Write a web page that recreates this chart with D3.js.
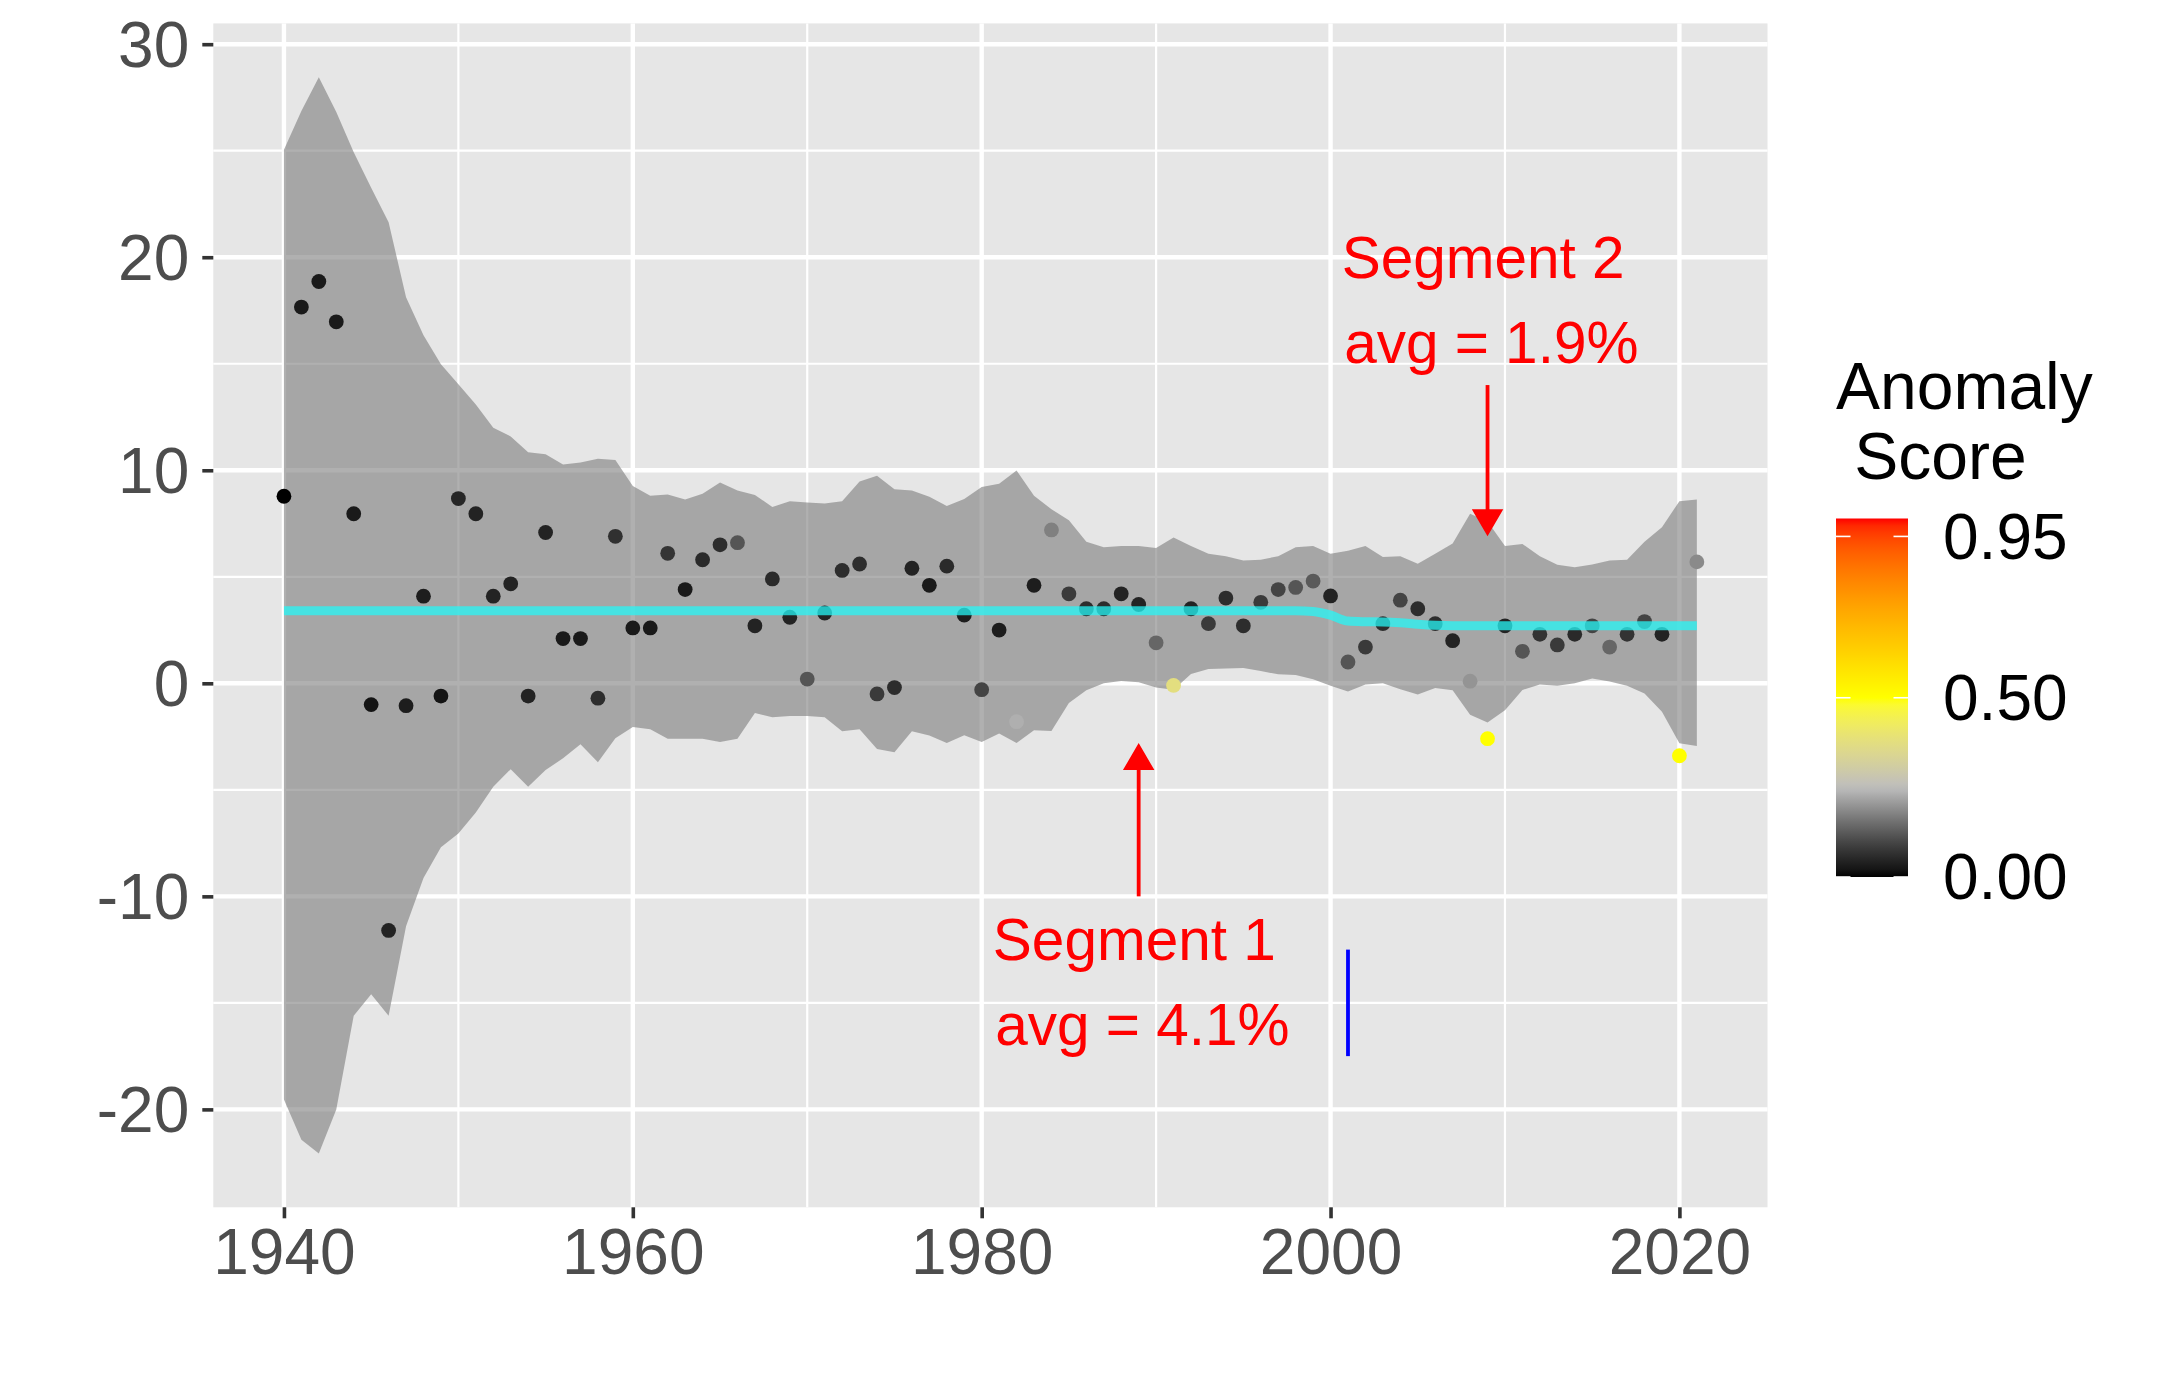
<!DOCTYPE html>
<html>
<head>
<meta charset="utf-8">
<script src="https://cdn.jsdelivr.net/npm/d3@7"></script>
<style>
  html, body { margin: 0; padding: 0; background: #fff; }
  svg text { font-family: "Liberation Sans", Arial, Helvetica, sans-serif; }
</style>
</head>
<body>
<div id="chart"></div>
<script>
// Yearly values with anomaly score, uncertainty band and segment trend

const years = [
    1940, 1941, 1942, 1943, 1944, 1945, 1946, 1947, 1948, 1949,
    1950, 1951, 1952, 1953, 1954, 1955, 1956, 1957, 1958, 1959,
    1960, 1961, 1962, 1963, 1964, 1965, 1966, 1967, 1968, 1969,
    1970, 1971, 1972, 1973, 1974, 1975, 1976, 1977, 1978, 1979,
    1980, 1981, 1982, 1983, 1984, 1985, 1986, 1987, 1988, 1989,
    1990, 1991, 1992, 1993, 1994, 1995, 1996, 1997, 1998, 1999,
    2000, 2001, 2002, 2003, 2004, 2005, 2006, 2007, 2008, 2009,
    2010, 2011, 2012, 2013, 2014, 2015, 2016, 2017, 2018, 2019,
    2020, 2021
];

const values = [
    8.78, 17.66, 18.86, 16.97, 7.96, -1.0, -11.6, -1.05, 4.09, -0.6,
    8.67, 7.96, 4.09, 4.67, -0.6, 7.08, 2.1, 2.1, -0.7, 6.9,
    2.6, 2.6, 6.1, 4.4, 5.8, 6.5, 6.6, 2.7, 4.9, 3.1,
    0.2, 3.3, 5.3, 5.6, -0.5, -0.2, 5.4, 4.6, 5.5, 3.2,
    -0.3, 2.5, -1.8, 4.6, 7.2, 4.2, 3.5, 3.5, 4.2, 3.7,
    1.9, -0.1, 3.5, 2.8, 4.0, 2.7, 3.8, 4.4, 4.5, 4.8,
    4.1, 1.0, 1.7, 2.8, 3.9, 3.5, 2.8, 2.0, 0.1, -2.6,
    2.7, 1.5, 2.3, 1.8, 2.3, 2.7, 1.7, 2.3, 2.9, 2.3,
    -3.4, 5.7
];

const anomalyScores = [
    0.0, 0.03, 0.03, 0.03, 0.03, 0.02, 0.045, 0.035, 0.035, 0.02,
    0.05, 0.045, 0.045, 0.045, 0.045, 0.045, 0.03, 0.03, 0.06, 0.065,
    0.03, 0.03, 0.07, 0.03, 0.055, 0.06, 0.117, 0.045, 0.055, 0.045,
    0.117, 0.045, 0.06, 0.06, 0.08, 0.06, 0.045, 0.03, 0.055, 0.035,
    0.094, 0.035, 0.232, 0.035, 0.174, 0.08, 0.06, 0.06, 0.045, 0.045,
    0.14, 0.375, 0.045, 0.08, 0.06, 0.06, 0.08, 0.094, 0.117, 0.124,
    0.045, 0.117, 0.08, 0.06, 0.094, 0.06, 0.06, 0.045, 0.199, 0.5,
    0.045, 0.117, 0.069, 0.08, 0.056, 0.094, 0.14, 0.069, 0.094, 0.045,
    0.5, 0.187
];

const bandUpper = [
    25.04, 26.86, 28.45, 26.82, 24.93, 23.26, 21.64, 18.12, 16.34, 14.98,
    14.04, 13.09, 12.0, 11.59, 10.85, 10.75, 10.27, 10.37, 10.54, 10.48,
    9.26, 8.8, 8.86, 8.63, 8.9, 9.43, 9.05, 8.84, 8.28, 8.55,
    8.49, 8.44, 8.55, 9.47, 9.74, 9.11, 9.05, 8.76, 8.32, 8.65,
    9.22, 9.37, 9.99, 8.8, 8.17, 7.65, 6.64, 6.39, 6.45, 6.45,
    6.35, 6.85, 6.45, 6.08, 5.97, 5.76, 5.8, 5.97, 6.39, 6.45,
    6.08, 6.22, 6.45, 5.93, 5.97, 5.61, 6.08, 6.56, 7.96, 7.6,
    6.45, 6.54, 5.96, 5.56, 5.45, 5.58, 5.76, 5.8, 6.64, 7.33,
    8.55, 8.63
];

const bandLower = [
    -19.54, -21.43, -22.07, -20.0, -15.6, -14.6, -15.6, -11.4, -9.14, -7.7,
    -7.05, -6.06, -4.85, -4.03, -4.85, -4.07, -3.52, -2.86, -3.7, -2.58,
    -2.05, -2.16, -2.6, -2.6, -2.6, -2.75, -2.6, -1.39, -1.59, -1.54,
    -1.54, -1.59, -2.25, -2.16, -3.08, -3.24, -2.25, -2.45, -2.8, -2.44,
    -2.75, -2.36, -2.8, -2.2, -2.24, -0.93, -0.32, 0.0, 0.11, 0.05,
    -0.2, -0.3, 0.44, 0.67, 0.7, 0.72, 0.58, 0.42, 0.39, 0.19,
    -0.11, -0.39, -0.05, 0.0, -0.28, -0.53, -0.22, -0.33, -1.48, -1.84,
    -1.27, -0.31, -0.05, -0.11, 0.0, 0.23, 0.09, -0.11, -0.48, -1.33,
    -2.81, -2.94
];

// segment trend (break points of the fitted line)
const trendYears = [1940, 1998, 1999, 2000, 2001, 2002, 2003, 2004, 2005, 2006, 2007, 2021];
const trendValues = [3.41, 3.41, 3.37, 3.2, 2.92, 2.89, 2.88, 2.84, 2.77, 2.72, 2.7, 2.7];

const xMajorTicks = [1940, 1960, 1980, 2000, 2020];
const xMinorTicks = [1950, 1970, 1990, 2010];
const yMajorTicks = [-20, -10, 0, 10, 20, 30];
const yMinorTicks = [-15, -5, 5, 15, 25];

const legendTitle = ['Anomaly', ' Score'];
const legendBreaks = [0.0, 0.5, 0.95];
const legendLabels = ['0.00', '0.50', '0.95'];
const scoreStops = [0, 0.25, 0.5, 0.75, 1];
const scoreColors = ['black', '#BEBEBE', 'yellow', 'orange', 'red'];

const segmentLines1 = ['Segment 1', 'Segment 2'];
const segmentLines2 = [' avg = 4.1%', ' avg = 1.9%'];
const segmentTextX = [1988.75, 2008.75];
const segmentTextY = [-14, 18];
const arrowX = [1989, 2009];
const arrowFrom = [-10, 14];
const arrowTo = [-2.9, 7];

const markYear = [2001];
const markFrom = [-12.5];
const markTo = [-17.5];

function render() {
    const W = 2160, H = 1386;
    const panel = { left: 213.3, right: 1767.5, top: 23.4, bottom: 1207.3 };
    const font = '"Liberation Sans", Arial, Helvetica, sans-serif';

    const svg = d3.select('#chart').append('svg')
        .attr('width', W)
        .attr('height', H);

    svg.append('rect').attr('width', W).attr('height', H).attr('fill', '#ffffff');

    // ggplot-style 5% expansion
    const xExt = d3.extent(years);
    const xPad = (xExt[1] - xExt[0]) * 0.05;
    const yExt = [d3.min(bandLower), d3.max(bandUpper)];
    const yPad = (yExt[1] - yExt[0]) * 0.05;

    const x = d3.scaleLinear()
        .domain([xExt[0] - xPad, xExt[1] + xPad])
        .range([panel.left, panel.right]);
    const y = d3.scaleLinear()
        .domain([yExt[0] - yPad, yExt[1] + yPad])
        .range([panel.bottom, panel.top]);

    const color = d3.scaleLinear()
        .domain(scoreStops)
        .range(scoreColors)
        .interpolate(d3.interpolateLab)
        .clamp(true);

    // panel + grid
    svg.append('rect')
        .attr('x', panel.left).attr('y', panel.top)
        .attr('width', panel.right - panel.left)
        .attr('height', panel.bottom - panel.top)
        .attr('fill', '#E6E6E6');

    const grid = svg.append('g');
    xMinorTicks.forEach(t => {
        grid.append('line')
            .attr('x1', x(t)).attr('x2', x(t))
            .attr('y1', panel.top).attr('y2', panel.bottom)
            .attr('stroke', '#fff').attr('stroke-width', 2.2);
    });
    yMinorTicks.forEach(t => {
        grid.append('line')
            .attr('x1', panel.left).attr('x2', panel.right)
            .attr('y1', y(t)).attr('y2', y(t))
            .attr('stroke', '#fff').attr('stroke-width', 2.2);
    });
    xMajorTicks.forEach(t => {
        grid.append('line')
            .attr('x1', x(t)).attr('x2', x(t))
            .attr('y1', panel.top).attr('y2', panel.bottom)
            .attr('stroke', '#fff').attr('stroke-width', 4.4);
    });
    yMajorTicks.forEach(t => {
        grid.append('line')
            .attr('x1', panel.left).attr('x2', panel.right)
            .attr('y1', y(t)).attr('y2', y(t))
            .attr('stroke', '#fff').attr('stroke-width', 4.4);
    });

    const rows = years.map((yr, i) => ({
        year: yr,
        value: values[i],
        score: anomalyScores[i],
        upper: bandUpper[i],
        lower: bandLower[i]
    }));

    // uncertainty ribbon
    const area = d3.area()
        .x(d => x(d.year))
        .y0(d => y(d.lower))
        .y1(d => y(d.upper));

    svg.append('path')
        .datum(rows)
        .attr('d', area)
        .attr('fill', '#7C7C7C')
        .attr('fill-opacity', 0.6);

    // points coloured by anomaly score
    svg.append('g')
        .selectAll('circle')
        .data(rows)
        .enter()
        .append('circle')
        .attr('cx', d => x(d.year))
        .attr('cy', d => y(d.value))
        .attr('r', 7.4)
        .attr('fill', d => color(d.score));

    // segment trend line
    const trend = trendYears.map((yr, i) => ({ year: yr, value: trendValues[i] }));
    const line = d3.line()
        .x(d => x(d.year))
        .y(d => y(d.value))
        .curve(d3.curveMonotoneX);

    svg.append('path')
        .datum(trend)
        .attr('d', line)
        .attr('fill', 'none')
        .attr('stroke', '#26F6F6')
        .attr('stroke-opacity', 0.75)
        .attr('stroke-width', 9);

    // axes (plain hyphen for negatives, as in R)
    const xAxis = d3.axisBottom(x)
        .tickValues(xMajorTicks)
        .tickFormat(d => String(d))
        .tickSize(11)
        .tickPadding(10);

    const gx = svg.append('g')
        .attr('transform', `translate(0,${panel.bottom})`)
        .call(xAxis);

    const yAxis = d3.axisLeft(y)
        .tickValues(yMajorTicks)
        .tickFormat(d => String(d))
        .tickSize(11)
        .tickPadding(13);

    const gy = svg.append('g')
        .attr('transform', `translate(${panel.left},0)`)
        .call(yAxis);

    [gx, gy].forEach(g => {
        g.select('.domain').remove();
        g.selectAll('.tick line').attr('stroke', '#333333').attr('stroke-width', 3.6);
        g.selectAll('.tick text')
            .attr('fill', '#4D4D4D')
            .style('font-family', font)
            .style('font-size', '64px');
    });
    gx.selectAll('.tick text').attr('dy', '0.71em');
    gy.selectAll('.tick text').attr('dy', '0.35em');

    // annotations
    const annot = svg.append('g');
    segmentLines1.forEach((txt, i) => {
        const t = annot.append('text')
            .attr('text-anchor', 'middle')
            .attr('fill', '#FF0000')
            .style('font-size', '58.5px')
            .style('white-space', 'pre');
        t.append('tspan')
            .attr('x', x(segmentTextX[i]))
            .attr('y', y(segmentTextY[i]) - 22)
            .text(txt);
        t.append('tspan')
            .attr('x', x(segmentTextX[i]))
            .attr('y', y(segmentTextY[i]) + 63)
            .text(segmentLines2[i]);
    });

    arrowX.forEach((ax, i) => {
        const xs = x(ax);
        const y0 = y(arrowFrom[i]);
        const y1 = y(arrowTo[i]);
        const dir = y1 > y0 ? 1 : -1;
        const headLen = 24, headHalf = 14;
        annot.append('line')
            .attr('x1', xs).attr('x2', xs)
            .attr('y1', y0).attr('y2', y1 - dir * headLen)
            .attr('stroke', '#FF0000')
            .attr('stroke-width', 3.8);
        annot.append('path')
            .attr('d', `M${xs - headHalf},${y1 - dir * headLen}L${xs + headHalf},${y1 - dir * headLen}L${xs},${y1}Z`)
            .attr('fill', '#FF0000')
            .attr('stroke', '#FF0000')
            .attr('stroke-width', 2);
    });

    markYear.forEach((m, i) => {
        annot.append('line')
            .attr('x1', x(m)).attr('x2', x(m))
            .attr('y1', y(markFrom[i])).attr('y2', y(markTo[i]))
            .attr('stroke', '#0000FF')
            .attr('stroke-width', 3.8);
    });

    // colour bar legend
    const bar = { left: 1836, width: 72, top: 518.5, bottom: 877 };
    const legendY = d3.scaleLinear()
        .domain([0, 1])
        .range([bar.bottom, bar.top]);

    const grad = svg.append('defs').append('linearGradient')
        .attr('id', 'score-grad')
        .attr('x1', 0).attr('y1', 1).attr('x2', 0).attr('y2', 0);
    d3.range(0, 1.0001, 0.02).forEach(s => {
        grad.append('stop')
            .attr('offset', `${s * 100}%`)
            .attr('stop-color', color(s));
    });

    const legend = svg.append('g');
    legend.append('rect')
        .attr('x', bar.left).attr('y', bar.top)
        .attr('width', bar.width).attr('height', bar.bottom - bar.top)
        .attr('fill', 'url(#score-grad)');

    legendBreaks.forEach((b, i) => {
        const ty = legendY(b);
        legend.append('line')
            .attr('x1', bar.left).attr('x2', bar.left + 14.5)
            .attr('y1', ty).attr('y2', ty)
            .attr('stroke', '#fff').attr('stroke-width', 1.6);
        legend.append('line')
            .attr('x1', bar.left + bar.width - 14.5).attr('x2', bar.left + bar.width)
            .attr('y1', ty).attr('y2', ty)
            .attr('stroke', '#fff').attr('stroke-width', 1.6);
        legend.append('text')
            .attr('x', 1943)
            .attr('y', ty)
            .attr('dy', '0.35em')
            .attr('fill', '#000')
            .style('font-size', '64px')
            .text(legendLabels[i]);
    });

    const title = legend.append('text')
        .attr('fill', '#000')
        .style('font-size', '66px')
        .style('white-space', 'pre');
    legendTitle.forEach((t, i) => {
        title.append('tspan')
            .attr('x', 1836)
            .attr('y', 408.6 + i * 70.5)
            .text(t);
    });
}

render();
</script>
</body>
</html>
